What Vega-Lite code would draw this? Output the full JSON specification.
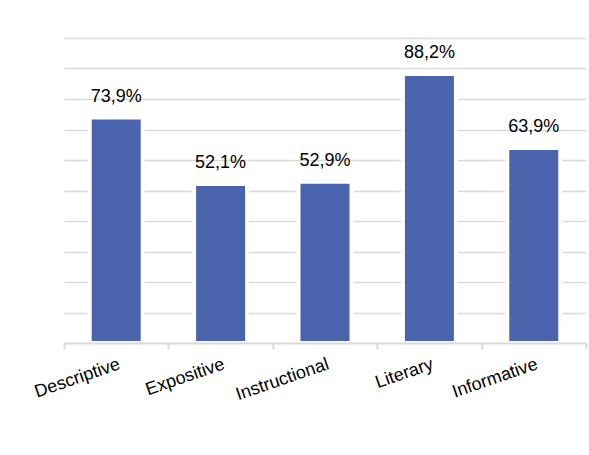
{
  "$schema": "https://vega.github.io/schema/vega-lite/v6.json",
  "width": 522,
  "height": 305,
  "autosize": {"type": "none"},
  "padding": {"left": 64, "top": 38, "right": 3, "bottom": 112},
  "background": "white",
  "config": {
    "view": {"stroke": null},
    "locale": {"number": {"decimal": ",", "thousands": ".", "grouping": [3], "currency": ["", " €"]}},
    "font": "Liberation Sans, Arial"
  },
  "data": {
    "values": [
      {"type": "Descriptive", "value": 0.739},
      {"type": "Expositive", "value": 0.521},
      {"type": "Instructional", "value": 0.529},
      {"type": "Literary", "value": 0.882},
      {"type": "Informative", "value": 0.639}
    ]
  },
  "encoding": {
    "x": {
      "field": "type",
      "type": "nominal",
      "sort": null,
      "scale": {"paddingInner": 0, "paddingOuter": 0},
      "axis": {
        "title": null,
        "tickBand": "extent",
        "labelAngle": -19,
        "labelFontSize": 18,
        "labelColor": "#000000",
        "labelPadding": 6,
        "domainColor": "#d9d9d9",
        "domainWidth": 2,
        "tickColor": "#d9d9d9",
        "tickWidth": 2,
        "tickSize": 6,
        "zindex": 1
      }
    },
    "y": {
      "field": "value",
      "type": "quantitative",
      "scale": {"domain": [0, 1]},
      "axis": {
        "title": null,
        "labels": false,
        "ticks": false,
        "domain": false,
        "values": [0.1, 0.2, 0.3, 0.4, 0.5, 0.6, 0.7, 0.8, 0.9, 1.0],
        "gridColor": "#d9d9d9",
        "gridWidth": 1.5
      }
    }
  },
  "layer": [
    {
      "mark": {"type": "bar", "size": 53, "color": "#4964ac", "stroke": "white", "strokeWidth": 4}
    },
    {
      "mark": {"type": "text", "baseline": "alphabetic", "dy": -16, "fontSize": 18, "color": "#000000"},
      "encoding": {"text": {"field": "value", "type": "quantitative", "format": ".1%"}}
    }
  ]
}
